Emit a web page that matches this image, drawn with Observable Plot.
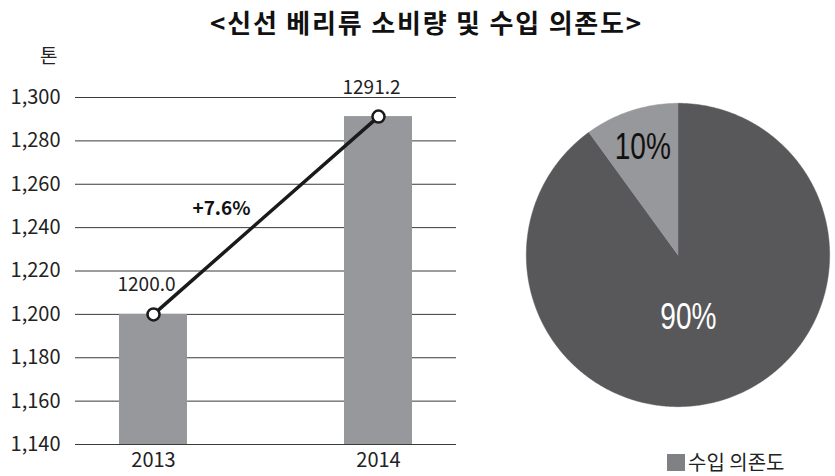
<!DOCTYPE html>
<html>
<head>
<meta charset="utf-8">
<script src="https://cdn.jsdelivr.net/npm/d3@7"></script>
<script src="https://cdn.jsdelivr.net/npm/@observablehq/plot@0.6"></script>
<style>
  html, body { margin: 0; padding: 0; background: #fff; overflow: hidden; }
  #wrap { position: relative; width: 835px; height: 476px; font-family: "Noto Sans CJK KR", "Noto Sans", sans-serif; color: #222; }
  #title { position: absolute; left: 0; top: 3px; width: 853px; text-align: center; font-size: 26px; font-weight: bold; letter-spacing: 1.8px; color: #111; }
  #unit { position: absolute; left: 40px; top: 41px; font-size: 19px; }
  #bar { position: absolute; left: 0; top: 40px; }
  #pie { position: absolute; left: 520px; top: 97px; }
  #legend { position: absolute; left: 667px; top: 449px; font-size: 20px; display: flex; align-items: center; line-height: 26px; }
  #legend .sw { width: 18px; height: 17px; background: #808184; margin-right: 3px; }
  #bar svg, #bar svg text { font-family: "Noto Sans CJK KR", "Noto Sans", sans-serif; }
</style>
</head>
<body>
<div id="wrap">
  <div id="title">&lt;신선 베리류 소비량 및 수입 의존도&gt;</div>
  <div id="unit">톤</div>
  <div id="bar"></div>
  <div id="pie"></div>
  <div id="legend"><div class="sw"></div><span>수입 의존도</span></div>
</div>
<script>
// ---- data ----
const years = ["2013", "2014"];
const consumption = [1200.0, 1291.2];
const consumptionLabels = ["1200.0", "1291.2"];
const yTicks = [1140, 1160, 1180, 1200, 1220, 1240, 1260, 1280, 1300];
const growthLabel = "+7.6%";
const pieSlices = ["수입", "국산"];
const pieValues = [90, 10];
const pieLabels = ["90%", "10%"];

// ---- bar + line chart ----
const barData = years.map((y, i) => ({year: y, value: consumption[i], label: consumptionLabels[i]}));
const midValue = (consumption[0] + consumption[1]) / 2;

const bar = Plot.plot({
  width: 470,
  height: 436,
  marginTop: 57,
  marginBottom: 32,
  marginLeft: 75,
  marginRight: 14,
  style: {fontSize: "19px", fontFamily: "Noto Sans CJK KR, Noto Sans, sans-serif", color: "#222"},
  x: {type: "band", domain: years, paddingInner: 0.7, paddingOuter: 0.193, label: null},
  y: {domain: [1140, 1300], label: null},
  marks: [
    Plot.gridY(yTicks, {stroke: "#3a3a3a", strokeOpacity: 1, strokeWidth: 1}),
    Plot.barY(barData, {x: "year", y1: 1140, y2: "value", fill: "#97989b"}),
    Plot.axisY({ticks: yTicks, tickFormat: d3.format(","), tickSize: 0, tickPadding: 15, fill: "#222", fontSize: 20}),
    Plot.axisX({tickSize: 0, tickPadding: 8, fill: "#222", fontSize: 20}),
    Plot.line(barData, {x: "year", y: "value", stroke: "#1a1a1a", strokeWidth: 3.5}),
    Plot.dot(barData, {x: "year", y: "value", r: 6, fill: "white", stroke: "#1a1a1a", strokeWidth: 2.5}),
    Plot.text(barData, {x: "year", y: "value", text: "label", dx: -7, dy: -29, fill: "#222"}),
    Plot.text([growthLabel], {x: () => years[0], y: () => midValue, text: d => d, dx: 68, dy: -7, fontWeight: "bold", fill: "#111"})
  ]
});
document.getElementById("bar").appendChild(bar);

// ---- pie chart ----
const total = d3.sum(pieValues);
let acc = 0;
const pieData = [];
const pieLabelData = [];
pieSlices.forEach((s, i) => {
  const a0 = acc / total * 360;
  acc += pieValues[i];
  const a1 = acc / total * 360;
  pieData.push({slice: s, x: 0, y: 0});
  for (let a = a0; a <= a1 + 1e-9; a += 0.5) {
    const t = a * Math.PI / 180;
    pieData.push({slice: s, x: Math.sin(t), y: Math.cos(t)});
  }
  pieData.push({slice: s, x: 0, y: 0});
  const m = ((a0 + a1) / 2) * Math.PI / 180;
  pieLabelData.push({label: pieLabels[i], slice: s, x: Math.sin(m), y: Math.cos(m)});
});

const R = 162 / 156;
const pie = Plot.plot({
  width: 324,
  height: 324,
  margin: 0,
  x: {domain: [-R, R], axis: null},
  y: {domain: [-R, R], axis: null},
  style: {fontFamily: "Liberation Sans, Arial, sans-serif", overflow: "visible"},
  marks: [
    Plot.line(pieData.filter(d => d.slice === pieSlices[0]), {x: "x", y: "y", fill: "#58585a", stroke: "#58585a", strokeWidth: 0.5}),
    Plot.line(pieData.filter(d => d.slice === pieSlices[1]), {x: "x", y: "y", fill: "#97989b", stroke: "#97989b", strokeWidth: 0.5}),
    Plot.text(pieLabelData.filter(d => d.slice === pieSlices[0]), {x: d => d.x * 0.41, y: d => d.y * 0.41, text: "label", dx: -9, dy: 3, fontSize: 38, fill: "white", className: "pielabel"}),
    Plot.text(pieLabelData.filter(d => d.slice === pieSlices[1]), {x: d => d.x * 0.75, y: d => d.y * 0.75, text: "label", fontSize: 38, fill: "#111", className: "pielabel"})
  ]
});
// condense the pie percentage labels horizontally
pie.querySelectorAll(".pielabel text").forEach(t => {
  const tr = t.getAttribute("transform") || "";
  t.setAttribute("transform", tr + " scale(0.76,1)");
});
document.getElementById("pie").appendChild(pie);
</script>
</body>
</html>
